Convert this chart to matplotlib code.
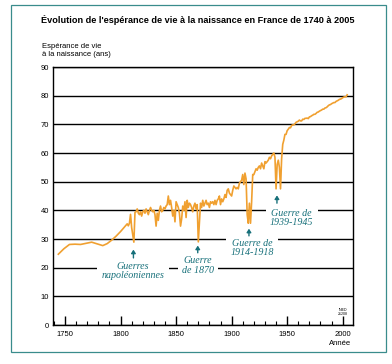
import numpy as np
import matplotlib
matplotlib.use("Agg")
import matplotlib.pyplot as plt
from matplotlib.patches import Rectangle

# Life expectancy at birth, France
years_early = [1744, 1749, 1754, 1759, 1764, 1769, 1774, 1779, 1784, 1788, 1792,
               1796, 1800, 1804, 1806, 1807, 1808, 1809, 1810, 1811, 1812, 1813]
le_early = [24.7, 26.6, 28.1, 28.2, 28.1, 28.5, 28.9, 28.3, 27.7, 28.4, 29.6,
            31.0, 32.6, 34.4, 35.3, 34.6, 35.5, 38.6, 34.0, 31.5, 28.9, 39.3]

years_1814 = list(range(1814, 1872))
le_1814 = [39.5, 40.5, 39.0, 38.5, 39.5, 38.0, 39.5, 40.0, 39.0, 40.5,
           39.5, 38.5, 40.0, 41.0, 40.0, 39.5, 40.0, 38.5, 34.5, 39.0,
           36.5, 40.0, 41.5, 39.5, 40.0, 41.0, 40.5, 41.5, 42.0, 45.0,
           42.0, 43.5, 41.0, 38.0, 40.0, 36.0, 43.0, 42.0, 41.0, 39.0,
           34.5, 37.0, 41.5, 40.0, 43.0, 37.5, 43.5, 41.0, 42.5, 42.0,
           41.0, 39.5, 41.5, 42.5, 40.5, 42.0, 29.0, 36.0]

years_1872 = list(range(1872, 1920))
le_1872 = [42.5, 41.0, 43.5, 41.5, 42.5, 43.5, 42.0, 42.5, 41.0, 43.0,
           42.5, 43.0, 42.0, 43.5, 42.0, 43.5, 44.0, 45.0, 42.0, 44.0,
           43.0, 44.0, 45.5, 44.5, 47.0, 47.5, 46.0, 45.5, 45.0, 47.0,
           48.5, 48.0, 47.5, 48.0, 47.5, 49.5, 50.0, 50.5, 52.5, 49.0,
           53.0, 51.0, 38.5, 35.5, 42.5, 35.5, 43.0, 52.5]

years_1920 = list(range(1920, 1950))
le_1920 = [52.5, 53.5, 54.5, 54.0, 55.0, 55.5, 54.5, 56.5, 55.5, 54.5,
           57.0, 56.5, 57.0, 57.5, 58.5, 58.0, 59.0, 59.5, 60.0, 58.5,
           47.5, 56.0, 57.5, 55.0, 47.5, 58.0, 63.0, 64.5, 66.5, 66.5]

years_1950 = list(range(1950, 2005))
le_1950 = [67.8, 68.3, 68.9, 68.8, 69.6, 69.8, 69.8, 70.2, 70.7, 70.9,
           71.1, 71.5, 71.2, 71.2, 71.8, 71.7, 72.1, 72.1, 72.2, 72.0,
           72.6, 72.7, 73.0, 73.2, 73.5, 73.5, 73.8, 74.2, 74.3, 74.6,
           74.8, 75.0, 75.3, 75.3, 75.7, 75.8, 76.1, 76.5, 76.8, 76.9,
           77.2, 77.4, 77.6, 77.6, 78.0, 78.2, 78.4, 78.7, 78.8, 79.0,
           79.3, 79.5, 79.6, 79.6, 80.3]

years = years_early + years_1814 + years_1872 + years_1920 + years_1950
le = le_early + le_1814 + le_1872 + le_1920 + le_1950

notes = ["Guerres\nnapoléoniennes", "Guerre\nde 1870", "Guerre de\n1914-1918", "Guerre de\n1939-1945"]
note_xy = [(1811.2, 18.9), (1869.5, 20.8), (1918.3, 26.8), (1954.0, 37.4)]
arrow_x = [1811.6, 1869.5, 1915.6, 1940.8]
arrow_y = [(23.4, 26.3), (25.2, 27.7), (31.1, 33.6), (42.5, 45.2)]

teal = "#17707a"
orange = "#f0a030"
sans = ["Liberation Sans Narrow", "Liberation Sans", "DejaVu Sans"]
serif = ["Liberation Serif", "DejaVu Serif"]

fig = plt.figure(figsize=(3.92, 3.64), dpi=100)
ax = fig.add_axes([0.1352, 0.1071, 0.766, 0.7088])

ax.plot(years, le, color=orange, lw=1.2, zorder=3)

ax.set_xlim(1739.2, 2009.5)
ax.set_ylim(0, 90)
ax.set_yticks(range(0, 100, 10))
ax.set_xticks(range(1750, 2001, 50))
ax.set_xticks(range(1740, 2001, 10), minor=True)
ax.grid(axis="y", color="black", lw=1.0, zorder=1)
ax.tick_params(axis="y", length=0, pad=3, labelsize=5.5)
ax.tick_params(axis="x", which="major", direction="in", length=6.5, width=1.0, pad=4, labelsize=5.5)
ax.tick_params(axis="x", which="minor", direction="in", length=3, width=0.8)
for lab in ax.get_xticklabels() + ax.get_yticklabels():
    lab.set_fontfamily(sans)
for s in ax.spines.values():
    s.set_linewidth(1.0)

for txt, (tx, ty) in zip(notes, note_xy):
    ax.text(tx, ty, txt, ha="center", va="center", fontsize=7.2, style="italic",
            family=serif, color=teal, linespacing=1.05, zorder=4,
            bbox=dict(facecolor="white", edgecolor="none", pad=3))
for x, (y0, y1) in zip(arrow_x, arrow_y):
    ax.annotate("", xy=(x, y1), xytext=(x, y0),
                arrowprops=dict(arrowstyle="-|>,head_length=0.2,head_width=0.13",
                                color=teal, lw=1.0, shrinkA=0, shrinkB=0), zorder=4)

ax.text(2000.5, 4.5, "INED\n21208", ha="center", va="center", fontsize=2.6,
        family=sans, linespacing=1.0)

fig.text(0.504, 0.945, "Évolution de l'espérance de vie à la naissance en France de 1740 à 2005",
         ha="center", va="center", fontsize=6.6, fontweight="bold", family=sans)
fig.text(0.107, 0.882, "Espérance de vie\nà la naissance (ans)", ha="left", va="top",
         fontsize=5.5, family=sans, linespacing=1.3)
fig.text(0.868, 0.055, "Année", ha="center", va="center", fontsize=5.5, family=sans)

fig.patches.append(Rectangle((0.028, 0.033), 0.957, 0.953, transform=fig.transFigure,
                             fill=False, edgecolor="#3a8c8c", lw=0.9))

fig.savefig("out.png", dpi=100)
